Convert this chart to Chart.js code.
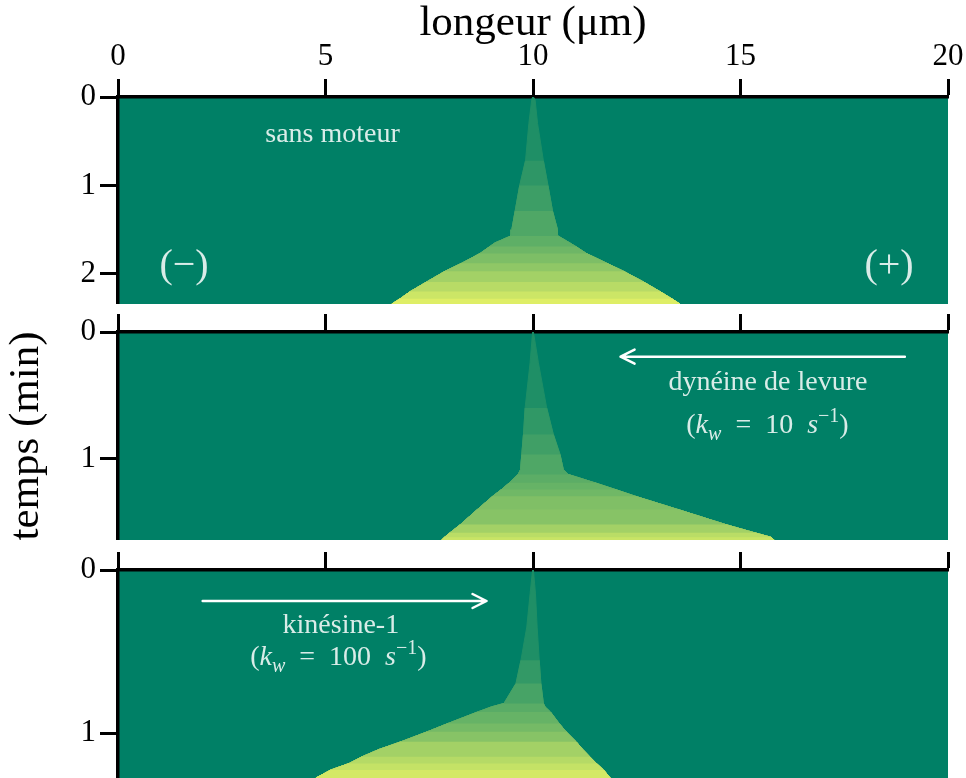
<!DOCTYPE html>
<html>
<head>
<meta charset="utf-8">
<script src="https://cdn.jsdelivr.net/npm/chart.js@4.4.1/dist/chart.umd.min.js"></script>
<style>
  html, body { margin: 0; padding: 0; background: #fff; overflow: hidden; }
  canvas { position: absolute; left: 0; }
</style>
</head>
<body>
<canvas id="kymo1" width="966" height="304" style="top:0px"></canvas>
<canvas id="kymo2" width="966" height="236" style="top:304px"></canvas>
<canvas id="kymo3" width="966" height="238" style="top:540px"></canvas>
<script>
// time axis ends (min) for each panel
const tMax = [2.34, 1.644, 1.275];

// sans moteur : edges of the occupied region (um) at each time (min)
const p1Times = [0, 0.03, 0.30, 0.72, 1.00, 1.29, 1.50, 1.57, 1.65, 1.69, 1.77, 1.88, 1.97, 2.09, 2.20, 2.28, 2.34];
const p1Left = [9.99, 9.97, 9.90, 9.82, 9.68, 9.57, 9.49, 9.47, 9.08, 8.96, 8.72, 8.28, 7.88, 7.44, 7.04, 6.80, 6.60];
const p1Right = [10.01, 10.05, 10.11, 10.25, 10.36, 10.47, 10.59, 10.60, 10.89, 11.03, 11.29, 11.78, 12.18, 12.66, 13.06, 13.34, 13.54];
const p1Bands = [0, 0.72, 1.00, 1.29, 1.57, 1.69, 1.77, 1.88, 1.97, 2.09, 2.20, 2.28];
const p1Levels = [0.12, 0.18, 0.24, 0.31, 0.37, 0.43, 0.49, 0.56, 0.64, 0.72, 0.80, 0.87];

// dyneine de levure
const p2Times = [0, 0.243, 0.60, 0.81, 0.968, 1.087, 1.126, 1.192, 1.245, 1.298, 1.403, 1.522, 1.587, 1.622, 1.644];
const p2Left = [9.99, 9.93, 9.81, 9.77, 9.73, 9.70, 9.64, 9.43, 9.24, 9.03, 8.66, 8.25, 8.00, 7.87, 7.80];
const p2Right = [10.01, 10.13, 10.33, 10.49, 10.65, 10.73, 10.85, 11.49, 11.98, 12.46, 13.49, 14.64, 15.34, 15.73, 15.81];
const p2Bands = [0, 0.60, 0.81, 0.968, 1.126, 1.192, 1.245, 1.298, 1.403, 1.522, 1.587, 1.622];
const p2Levels = [0.12, 0.19, 0.25, 0.31, 0.36, 0.40, 0.44, 0.50, 0.53, 0.64, 0.73, 0.79];

// kinesine-1
const p3Times = [0, 0.146, 0.35, 0.553, 0.696, 0.818, 0.839, 0.870, 0.941, 0.992, 1.053, 1.100, 1.145, 1.186, 1.226, 1.275];
const p3Left = [9.99, 9.93, 9.85, 9.71, 9.59, 9.30, 9.00, 8.67, 7.95, 7.45, 6.82, 6.29, 5.88, 5.57, 5.13, 4.77];
const p3Right = [10.01, 10.06, 10.10, 10.15, 10.19, 10.25, 10.29, 10.42, 10.63, 10.80, 11.04, 11.20, 11.37, 11.53, 11.70, 11.86];
const p3Bands = [0, 0.553, 0.696, 0.818, 0.870, 0.941, 0.992, 1.053, 1.145, 1.186, 1.226];
const p3Levels = [0.12, 0.20, 0.28, 0.35, 0.40, 0.46, 0.53, 0.64, 0.71, 0.77, 0.83];

const FONT = '"Liberation Serif", "DejaVu Serif", serif';
Chart.defaults.font.family = FONT;
Chart.defaults.color = '#000';

// matplotlib "summer" colormap
function summer(v) {
  return 'rgb(' + Math.round(255 * v) + ',' + Math.round(255 * (0.5 + v / 2)) + ',102)';
}

// one closed polygon per band, from its start time down to the end of the panel.
// chart.js paints dataset 0 last, so the latest band goes first
function bandDatasets(times, left, right, bands, levels) {
  return bands.map(function (t0, k) {
    const idx = [];
    times.forEach(function (t, i) { if (t >= t0 - 1e-9) idx.push(i); });
    const pts = idx.map(i => ({ x: left[i], y: times[i] }))
      .concat(idx.slice().reverse().map(i => ({ x: right[i], y: times[i] })));
    const col = summer(levels[k]);
    return {
      data: pts,
      showLine: true,
      fill: 'shape',
      backgroundColor: col,
      borderColor: col,
      borderWidth: 1,
      pointRadius: 0,
      pointHoverRadius: 0
    };
  }).reverse();
}

function drawRuns(ctx, runs, cx, baseY, size) {
  // runs: [text, italic, scale, dy (em)]
  const fontOf = r => (r[1] ? 'italic ' : '') + Math.round(size * r[2]) + 'px ' + FONT;
  let total = 0;
  runs.forEach(r => { ctx.font = fontOf(r); total += ctx.measureText(r[0]).width; });
  let x = cx - total / 2;
  ctx.textAlign = 'left';
  ctx.textBaseline = 'alphabetic';
  runs.forEach(r => {
    ctx.font = fontOf(r);
    ctx.fillText(r[0], x, baseY + r[3] * size);
    x += ctx.measureText(r[0]).width;
  });
}

function arrow(ctx, x0, x1, y) {
  const dir = Math.sign(x1 - x0);
  ctx.save();
  ctx.strokeStyle = '#fff';
  ctx.lineWidth = 2.5;
  ctx.lineCap = 'round';
  ctx.lineJoin = 'round';
  ctx.beginPath();
  ctx.moveTo(x0, y);
  ctx.lineTo(x1, y);
  ctx.moveTo(x1 - dir * 14, y - 7);
  ctx.lineTo(x1, y);
  ctx.lineTo(x1 - dir * 14, y + 7);
  ctx.stroke();
  ctx.restore();
}

const panelBg = {
  id: 'panelBg',
  beforeDraw(chart) {
    const a = chart.chartArea;
    chart.ctx.save();
    chart.ctx.fillStyle = summer(0);
    chart.ctx.fillRect(a.left, a.top, a.right - a.left, a.bottom - a.top);
    chart.ctx.restore();
  }
};

const notes = {
  id: 'notes',
  afterDraw(chart, args, opts) {
    const ctx = chart.ctx;
    const sx = chart.scales.x, sy = chart.scales.y;
    ctx.save();
    ctx.fillStyle = 'rgba(255,255,255,0.85)';
    (opts.items || []).forEach(function (n) {
      if (n.arrow) {
        arrow(ctx, sx.getPixelForValue(n.arrow[0]), sx.getPixelForValue(n.arrow[1]), sy.getPixelForValue(n.t));
      } else {
        drawRuns(ctx, n.runs, sx.getPixelForValue(n.x), sy.getPixelForValue(n.t), n.size);
      }
    });
    ctx.restore();
  }
};

function makePanel(id, datasets, tmax, topH, showX, showYTitle, items) {
  const tickFont = { size: 31 };
  return new Chart(document.getElementById(id), {
    type: 'scatter',
    data: { datasets: datasets },
    plugins: [panelBg, notes],
    options: {
      responsive: false,
      animation: false,
      events: [],
      layout: { padding: { left: 0, right: 18, top: 0, bottom: 0 } },
      plugins: {
        legend: { display: false },
        tooltip: { enabled: false },
        notes: { items: items }
      },
      scales: {
        x: {
          type: 'linear',
          position: 'top',
          min: 0,
          max: 20,
          ticks: { stepSize: 5, display: showX, padding: 4, font: tickFont, color: '#000' },
          grid: { drawOnChartArea: false, drawTicks: true, tickLength: 18, tickWidth: 3, tickColor: '#000' },
          border: { display: true, width: 3.5, color: '#000' },
          title: {
            display: showX,
            text: 'longeur (μm)',
            color: '#000',
            font: { size: 43, lineHeight: 1.1 },
            padding: { top: 0, bottom: 0 }
          },
          afterFit(s) { s.height = topH; s.paddingLeft = 0; s.paddingRight = 0; }
        },
        y: {
          type: 'linear',
          position: 'left',
          reverse: true,
          min: 0,
          max: tmax,
          ticks: { stepSize: 1, includeBounds: false, padding: 4, font: tickFont, color: '#000' },
          grid: { drawOnChartArea: false, drawTicks: true, tickLength: 18, tickWidth: 3, tickColor: '#000' },
          border: { display: true, width: 3.5, color: '#000' },
          title: {
            display: showYTitle,
            text: 'temps (min)',
            color: '#000',
            font: { size: 43, lineHeight: 1.1 },
            padding: { top: 3, bottom: 0 }
          },
          afterFit(s) { s.width = 118; s.paddingTop = 0; s.paddingBottom = 0; }
        }
      }
    }
  });
}

makePanel('kymo1', bandDatasets(p1Times, p1Left, p1Right, p1Bands, p1Levels), tMax[0], 97, true, false, [
  { x: 5.17, t: 0.505, size: 28, runs: [['sans moteur', false, 1, 0]] },
  { x: 1.59, t: 2.04, size: 40, runs: [['(−)', false, 1, 0]] },
  { x: 18.58, t: 2.04, size: 40, runs: [['(+)', false, 1, 0]] }
]);

makePanel('kymo2', bandDatasets(p2Times, p2Left, p2Right, p2Bands, p2Levels), tMax[1], 28, false, true, [
  { arrow: [18.96, 12.11], t: 0.195 },
  { x: 15.66, t: 0.455, size: 28, runs: [['dynéine de levure', false, 1, 0]] },
  { x: 15.65, t: 0.798, size: 28, runs: [
    ['(', false, 1, 0], ['k', true, 1, 0], ['w', true, 0.7, 0.25], ['\u2002=\u200210\u2002', false, 1, 0],
    ['s', true, 1, 0], ['−1', false, 0.7, -0.4], [')', false, 1, 0]] }
]);

makePanel('kymo3', bandDatasets(p3Times, p3Left, p3Right, p3Bands, p3Levels), tMax[2], 30, false, false, [
  { arrow: [2.04, 8.88], t: 0.19 },
  { x: 5.37, t: 0.388, size: 28, runs: [['kinésine-1', false, 1, 0]] },
  { x: 5.31, t: 0.582, size: 28, runs: [
    ['(', false, 1, 0], ['k', true, 1, 0], ['w', true, 0.7, 0.25], ['\u2002=\u2002100\u2002', false, 1, 0],
    ['s', true, 1, 0], ['−1', false, 0.7, -0.4], [')', false, 1, 0]] }
]);
</script>
</body>
</html>
